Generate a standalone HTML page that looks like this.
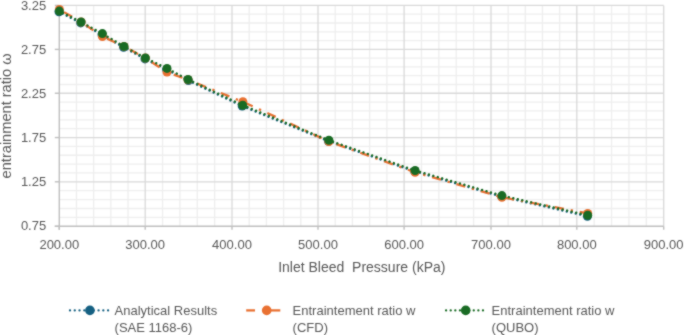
<!DOCTYPE html>
<html><head><meta charset="utf-8"><style>
html,body{margin:0;padding:0;background:#fff;width:685px;height:335px;overflow:hidden}
svg{display:block}
text{font-family:"Liberation Sans",sans-serif;fill:#595959}
.t{font-size:13px}
.ti{font-size:14px}
.yt{font-size:14.6px}
.lg{font-size:13px}
</style></head><body>
<svg width="685" height="335" viewBox="0 0 685 335">
<defs><filter id="b" x="0" y="0" width="685" height="335" filterUnits="userSpaceOnUse" color-interpolation-filters="sRGB"><feConvolveMatrix order="3" kernelMatrix="1 2 1 2 14 2 1 2 1" edgeMode="duplicate"/></filter></defs>
<g filter="url(#b)">
<rect width="685" height="335" fill="#fff"/>
<line x1="76.48" y1="5.4" x2="76.48" y2="226.3" stroke="#eeeeee" stroke-width="1.3"/>
<line x1="93.66" y1="5.4" x2="93.66" y2="226.3" stroke="#eeeeee" stroke-width="1.3"/>
<line x1="110.84" y1="5.4" x2="110.84" y2="226.3" stroke="#eeeeee" stroke-width="1.3"/>
<line x1="128.02" y1="5.4" x2="128.02" y2="226.3" stroke="#eeeeee" stroke-width="1.3"/>
<line x1="162.56" y1="5.4" x2="162.56" y2="226.3" stroke="#eeeeee" stroke-width="1.3"/>
<line x1="179.92" y1="5.4" x2="179.92" y2="226.3" stroke="#eeeeee" stroke-width="1.3"/>
<line x1="197.28" y1="5.4" x2="197.28" y2="226.3" stroke="#eeeeee" stroke-width="1.3"/>
<line x1="214.64" y1="5.4" x2="214.64" y2="226.3" stroke="#eeeeee" stroke-width="1.3"/>
<line x1="249.20" y1="5.4" x2="249.20" y2="226.3" stroke="#eeeeee" stroke-width="1.3"/>
<line x1="266.40" y1="5.4" x2="266.40" y2="226.3" stroke="#eeeeee" stroke-width="1.3"/>
<line x1="283.60" y1="5.4" x2="283.60" y2="226.3" stroke="#eeeeee" stroke-width="1.3"/>
<line x1="300.80" y1="5.4" x2="300.80" y2="226.3" stroke="#eeeeee" stroke-width="1.3"/>
<line x1="335.22" y1="5.4" x2="335.22" y2="226.3" stroke="#eeeeee" stroke-width="1.3"/>
<line x1="352.44" y1="5.4" x2="352.44" y2="226.3" stroke="#eeeeee" stroke-width="1.3"/>
<line x1="369.66" y1="5.4" x2="369.66" y2="226.3" stroke="#eeeeee" stroke-width="1.3"/>
<line x1="386.88" y1="5.4" x2="386.88" y2="226.3" stroke="#eeeeee" stroke-width="1.3"/>
<line x1="421.48" y1="5.4" x2="421.48" y2="226.3" stroke="#eeeeee" stroke-width="1.3"/>
<line x1="438.86" y1="5.4" x2="438.86" y2="226.3" stroke="#eeeeee" stroke-width="1.3"/>
<line x1="456.24" y1="5.4" x2="456.24" y2="226.3" stroke="#eeeeee" stroke-width="1.3"/>
<line x1="473.62" y1="5.4" x2="473.62" y2="226.3" stroke="#eeeeee" stroke-width="1.3"/>
<line x1="508.16" y1="5.4" x2="508.16" y2="226.3" stroke="#eeeeee" stroke-width="1.3"/>
<line x1="525.32" y1="5.4" x2="525.32" y2="226.3" stroke="#eeeeee" stroke-width="1.3"/>
<line x1="542.48" y1="5.4" x2="542.48" y2="226.3" stroke="#eeeeee" stroke-width="1.3"/>
<line x1="559.64" y1="5.4" x2="559.64" y2="226.3" stroke="#eeeeee" stroke-width="1.3"/>
<line x1="594.18" y1="5.4" x2="594.18" y2="226.3" stroke="#eeeeee" stroke-width="1.3"/>
<line x1="611.56" y1="5.4" x2="611.56" y2="226.3" stroke="#eeeeee" stroke-width="1.3"/>
<line x1="628.94" y1="5.4" x2="628.94" y2="226.3" stroke="#eeeeee" stroke-width="1.3"/>
<line x1="646.32" y1="5.4" x2="646.32" y2="226.3" stroke="#eeeeee" stroke-width="1.3"/>
<line x1="59.3" y1="217.40" x2="663.7" y2="217.40" stroke="#eeeeee" stroke-width="1.3"/>
<line x1="59.3" y1="208.50" x2="663.7" y2="208.50" stroke="#eeeeee" stroke-width="1.3"/>
<line x1="59.3" y1="199.60" x2="663.7" y2="199.60" stroke="#eeeeee" stroke-width="1.3"/>
<line x1="59.3" y1="190.70" x2="663.7" y2="190.70" stroke="#eeeeee" stroke-width="1.3"/>
<line x1="59.3" y1="172.95" x2="663.7" y2="172.95" stroke="#eeeeee" stroke-width="1.3"/>
<line x1="59.3" y1="164.10" x2="663.7" y2="164.10" stroke="#eeeeee" stroke-width="1.3"/>
<line x1="59.3" y1="155.25" x2="663.7" y2="155.25" stroke="#eeeeee" stroke-width="1.3"/>
<line x1="59.3" y1="146.40" x2="663.7" y2="146.40" stroke="#eeeeee" stroke-width="1.3"/>
<line x1="59.3" y1="128.69" x2="663.7" y2="128.69" stroke="#eeeeee" stroke-width="1.3"/>
<line x1="59.3" y1="119.83" x2="663.7" y2="119.83" stroke="#eeeeee" stroke-width="1.3"/>
<line x1="59.3" y1="110.97" x2="663.7" y2="110.97" stroke="#eeeeee" stroke-width="1.3"/>
<line x1="59.3" y1="102.11" x2="663.7" y2="102.11" stroke="#eeeeee" stroke-width="1.3"/>
<line x1="59.3" y1="84.48" x2="663.7" y2="84.48" stroke="#eeeeee" stroke-width="1.3"/>
<line x1="59.3" y1="75.71" x2="663.7" y2="75.71" stroke="#eeeeee" stroke-width="1.3"/>
<line x1="59.3" y1="66.94" x2="663.7" y2="66.94" stroke="#eeeeee" stroke-width="1.3"/>
<line x1="59.3" y1="58.17" x2="663.7" y2="58.17" stroke="#eeeeee" stroke-width="1.3"/>
<line x1="59.3" y1="40.60" x2="663.7" y2="40.60" stroke="#eeeeee" stroke-width="1.3"/>
<line x1="59.3" y1="31.80" x2="663.7" y2="31.80" stroke="#eeeeee" stroke-width="1.3"/>
<line x1="59.3" y1="23.00" x2="663.7" y2="23.00" stroke="#eeeeee" stroke-width="1.3"/>
<line x1="59.3" y1="14.20" x2="663.7" y2="14.20" stroke="#eeeeee" stroke-width="1.3"/>
<line x1="145.20" y1="5.4" x2="145.20" y2="226.3" stroke="#d9d9d9" stroke-width="1.3"/>
<line x1="232.00" y1="5.4" x2="232.00" y2="226.3" stroke="#d9d9d9" stroke-width="1.3"/>
<line x1="318.00" y1="5.4" x2="318.00" y2="226.3" stroke="#d9d9d9" stroke-width="1.3"/>
<line x1="404.10" y1="5.4" x2="404.10" y2="226.3" stroke="#d9d9d9" stroke-width="1.3"/>
<line x1="491.00" y1="5.4" x2="491.00" y2="226.3" stroke="#d9d9d9" stroke-width="1.3"/>
<line x1="576.80" y1="5.4" x2="576.80" y2="226.3" stroke="#d9d9d9" stroke-width="1.3"/>
<line x1="663.70" y1="5.4" x2="663.70" y2="226.3" stroke="#d9d9d9" stroke-width="1.3"/>
<line x1="59.3" y1="181.80" x2="663.7" y2="181.80" stroke="#d9d9d9" stroke-width="1.3"/>
<line x1="59.3" y1="137.55" x2="663.7" y2="137.55" stroke="#d9d9d9" stroke-width="1.3"/>
<line x1="59.3" y1="93.25" x2="663.7" y2="93.25" stroke="#d9d9d9" stroke-width="1.3"/>
<line x1="59.3" y1="49.40" x2="663.7" y2="49.40" stroke="#d9d9d9" stroke-width="1.3"/>
<line x1="59.3" y1="5.40" x2="663.7" y2="5.40" stroke="#d9d9d9" stroke-width="1.3"/>
<line x1="59.3" y1="5.4" x2="59.3" y2="229.8" stroke="#bfbfbf" stroke-width="1.4"/>
<line x1="54.8" y1="226.3" x2="663.7" y2="226.3" stroke="#bfbfbf" stroke-width="1.4"/>
<line x1="59.30" y1="226.3" x2="59.30" y2="229.8" stroke="#bfbfbf" stroke-width="1.4"/>
<line x1="145.20" y1="226.3" x2="145.20" y2="229.8" stroke="#bfbfbf" stroke-width="1.4"/>
<line x1="232.00" y1="226.3" x2="232.00" y2="229.8" stroke="#bfbfbf" stroke-width="1.4"/>
<line x1="318.00" y1="226.3" x2="318.00" y2="229.8" stroke="#bfbfbf" stroke-width="1.4"/>
<line x1="404.10" y1="226.3" x2="404.10" y2="229.8" stroke="#bfbfbf" stroke-width="1.4"/>
<line x1="491.00" y1="226.3" x2="491.00" y2="229.8" stroke="#bfbfbf" stroke-width="1.4"/>
<line x1="576.80" y1="226.3" x2="576.80" y2="229.8" stroke="#bfbfbf" stroke-width="1.4"/>
<line x1="663.70" y1="226.3" x2="663.70" y2="229.8" stroke="#bfbfbf" stroke-width="1.4"/>
<line x1="54.8" y1="226.30" x2="59.3" y2="226.30" stroke="#bfbfbf" stroke-width="1.4"/>
<line x1="54.8" y1="181.80" x2="59.3" y2="181.80" stroke="#bfbfbf" stroke-width="1.4"/>
<line x1="54.8" y1="137.55" x2="59.3" y2="137.55" stroke="#bfbfbf" stroke-width="1.4"/>
<line x1="54.8" y1="93.25" x2="59.3" y2="93.25" stroke="#bfbfbf" stroke-width="1.4"/>
<line x1="54.8" y1="49.40" x2="59.3" y2="49.40" stroke="#bfbfbf" stroke-width="1.4"/>
<line x1="54.8" y1="5.40" x2="59.3" y2="5.40" stroke="#bfbfbf" stroke-width="1.4"/>
<text x="59.30" y="248.6" text-anchor="middle" class="t">200.00</text>
<text x="145.20" y="248.6" text-anchor="middle" class="t">300.00</text>
<text x="232.00" y="248.6" text-anchor="middle" class="t">400.00</text>
<text x="318.00" y="248.6" text-anchor="middle" class="t">500.00</text>
<text x="404.10" y="248.6" text-anchor="middle" class="t">600.00</text>
<text x="491.00" y="248.6" text-anchor="middle" class="t">700.00</text>
<text x="576.80" y="248.6" text-anchor="middle" class="t">800.00</text>
<text x="663.70" y="248.6" text-anchor="middle" class="t">900.00</text>
<text x="46.2" y="229.95" text-anchor="end" class="t">0.75</text>
<text x="46.2" y="186.30" text-anchor="end" class="t">1.25</text>
<text x="46.2" y="141.70" text-anchor="end" class="t">1.75</text>
<text x="46.2" y="97.70" text-anchor="end" class="t">2.25</text>
<text x="46.2" y="54.10" text-anchor="end" class="t">2.75</text>
<text x="46.2" y="9.75" text-anchor="end" class="t">3.25</text>
<text x="361.8" y="272" text-anchor="middle" class="ti" xml:space="preserve">Inlet Bleed  Pressure (kPa)</text>
<text transform="translate(11.2,115.9) rotate(-90)" text-anchor="middle" class="yt">entrainment ratio ω</text>
<polyline points="59.0,11.8 80.7,22.9 102.0,34.7 123.6,47.3 145.0,58.9 166.6,69.6 188.4,80.6 242.2,106.1 328.5,141.2 414.7,171.4 501.6,196.6 587.4,216.2" fill="none" stroke="#156082" stroke-width="2.4" stroke-dasharray="0.01 4.6" stroke-dashoffset="-4.0" stroke-linecap="round"/>
<circle cx="59.0" cy="11.8" r="4.5" fill="#156082"/>
<circle cx="80.7" cy="22.9" r="4.5" fill="#156082"/>
<circle cx="102.0" cy="34.7" r="4.5" fill="#156082"/>
<circle cx="123.6" cy="47.3" r="4.5" fill="#156082"/>
<circle cx="145.0" cy="58.9" r="4.5" fill="#156082"/>
<circle cx="166.6" cy="69.6" r="4.5" fill="#156082"/>
<circle cx="188.4" cy="80.6" r="4.5" fill="#156082"/>
<circle cx="242.2" cy="106.1" r="4.5" fill="#156082"/>
<circle cx="328.5" cy="141.2" r="4.5" fill="#156082"/>
<circle cx="414.7" cy="171.4" r="4.5" fill="#156082"/>
<circle cx="501.6" cy="196.6" r="4.5" fill="#156082"/>
<circle cx="587.4" cy="216.2" r="4.5" fill="#156082"/>
<polyline points="59.4,9.4 81.1,22.0 102.4,36.5 124,46.4 145.4,58 167,72.1 188,79.8 242.9,101.8 328.9,141.5 415.1,172.3 501.9,197.2 587.7,213.4" fill="none" stroke="#e97132" stroke-width="2.3" stroke-dasharray="9.2 6.9 2.3 6.9" stroke-dashoffset="19.87"/>
<circle cx="59.4" cy="9.4" r="4.5" fill="#e97132"/>
<circle cx="81.1" cy="22.0" r="4.5" fill="#e97132"/>
<circle cx="102.4" cy="36.5" r="4.5" fill="#e97132"/>
<circle cx="124" cy="46.4" r="4.5" fill="#e97132"/>
<circle cx="145.4" cy="58" r="4.5" fill="#e97132"/>
<circle cx="167" cy="72.1" r="4.5" fill="#e97132"/>
<circle cx="188" cy="79.8" r="4.5" fill="#e97132"/>
<circle cx="242.9" cy="101.8" r="4.5" fill="#e97132"/>
<circle cx="328.9" cy="141.5" r="4.5" fill="#e97132"/>
<circle cx="415.1" cy="172.3" r="4.5" fill="#e97132"/>
<circle cx="501.9" cy="197.2" r="4.5" fill="#e97132"/>
<circle cx="587.7" cy="213.4" r="4.5" fill="#e97132"/>
<polyline points="59.3,11.1 81.1,22 102.4,33.6 124,46.4 145.4,58 167,68.4 188,79.5 242.7,105.2 328.9,140.3 415.1,170.5 501.9,195.6 587.7,215.3" fill="none" stroke="#196b24" stroke-width="2.4" stroke-dasharray="0.01 4.6" stroke-dashoffset="-4.0" stroke-linecap="round"/>
<circle cx="59.3" cy="11.1" r="4.5" fill="#196b24"/>
<circle cx="81.1" cy="22" r="4.5" fill="#196b24"/>
<circle cx="102.4" cy="33.6" r="4.5" fill="#196b24"/>
<circle cx="124" cy="46.4" r="4.5" fill="#196b24"/>
<circle cx="145.4" cy="58" r="4.5" fill="#196b24"/>
<circle cx="167" cy="68.4" r="4.5" fill="#196b24"/>
<circle cx="188" cy="79.5" r="4.5" fill="#196b24"/>
<circle cx="242.7" cy="105.2" r="4.5" fill="#196b24"/>
<circle cx="328.9" cy="140.3" r="4.5" fill="#196b24"/>
<circle cx="415.1" cy="170.5" r="4.5" fill="#196b24"/>
<circle cx="501.9" cy="195.6" r="4.5" fill="#196b24"/>
<circle cx="587.7" cy="215.3" r="4.5" fill="#196b24"/>
<line x1="70" y1="310.4" x2="108.5" y2="310.4" stroke="#156082" stroke-width="2.3" stroke-dasharray="0.01 4.75" stroke-linecap="round"/>
<circle cx="89.9" cy="310.4" r="4.8" fill="#156082"/>
<text x="114.6" y="314.6" class="lg">Analytical Results</text>
<text x="114.6" y="331.8" class="lg">(SAE 1168-6)</text>
<line x1="246.2" y1="310.4" x2="255" y2="310.4" stroke="#e97132" stroke-width="2.3"/>
<line x1="262" y1="310.4" x2="280.3" y2="310.4" stroke="#e97132" stroke-width="2.3"/>
<circle cx="266.7" cy="310.4" r="4.8" fill="#e97132"/>
<text x="292.6" y="314.6" class="lg">Entraintement ratio w</text>
<text x="292.6" y="331.8" class="lg">(CFD)</text>
<line x1="446.1" y1="310.4" x2="484.7" y2="310.4" stroke="#196b24" stroke-width="2.3" stroke-dasharray="0.01 4.6" stroke-linecap="round"/>
<circle cx="465.7" cy="310.4" r="4.8" fill="#196b24"/>
<text x="491.6" y="314.6" class="lg">Entraintement ratio w</text>
<text x="491.6" y="331.8" class="lg">(QUBO)</text>
</g>
</svg>
</body></html>
